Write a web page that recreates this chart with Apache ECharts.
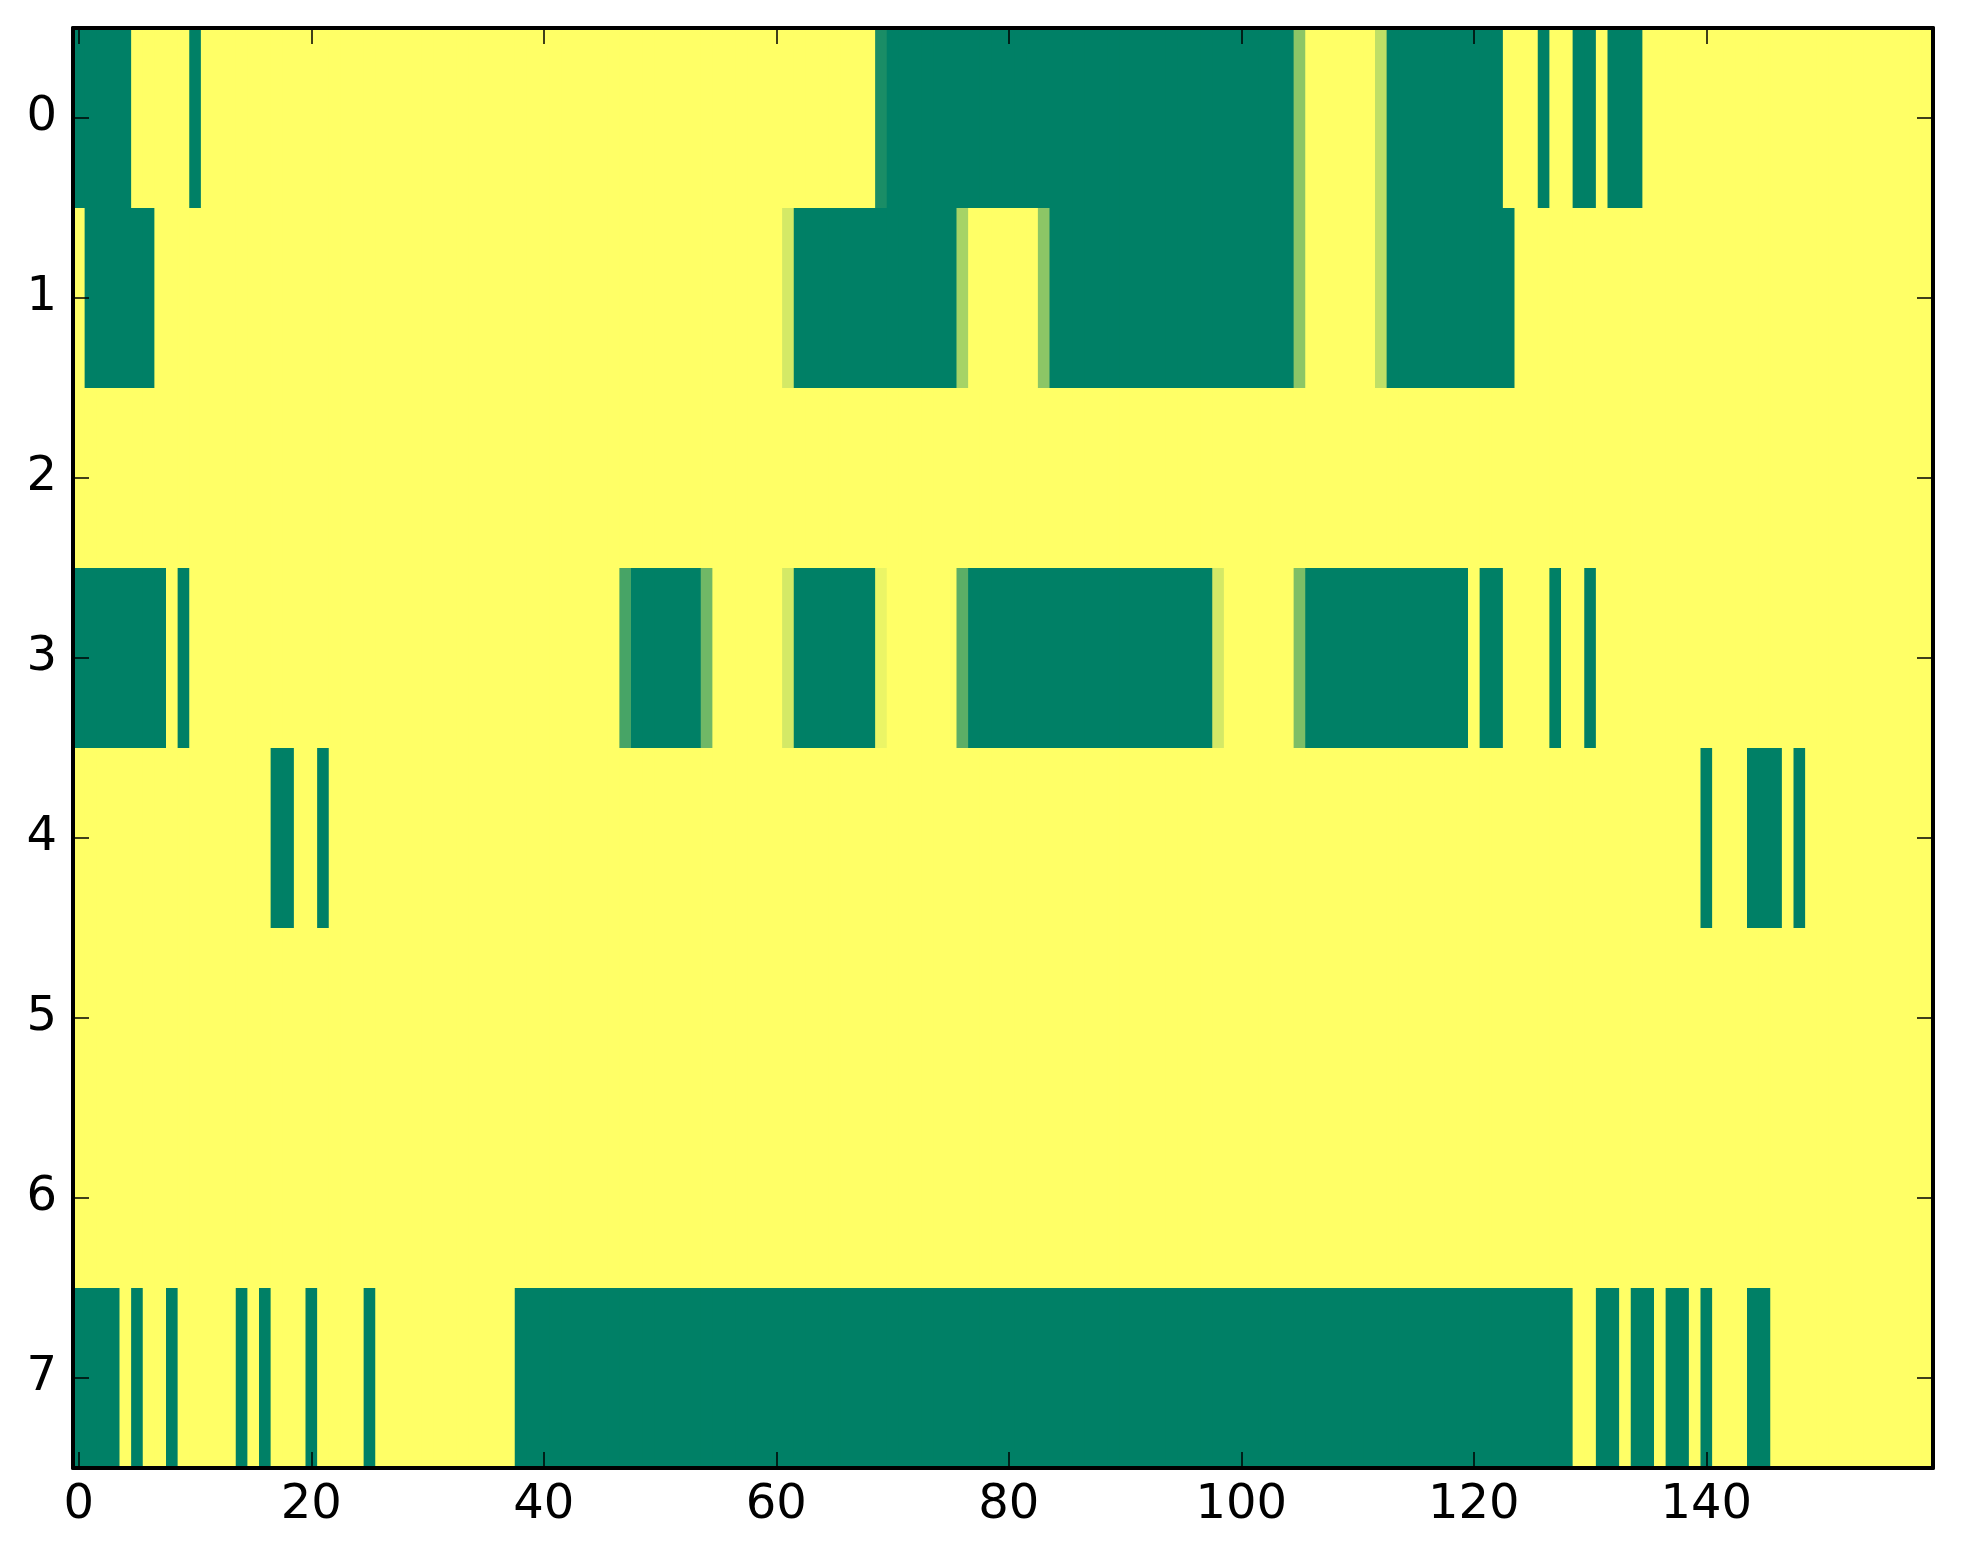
<!DOCTYPE html>
<html>
<head>
<meta charset="utf-8">
<script src="https://cdn.jsdelivr.net/npm/echarts@6/dist/echarts.min.js"></script>
<style>
  html, body { margin: 0; padding: 0; background: #fff; }
  #chart { width: 1963px; height: 1564px; }
</style>
</head>
<body>
<div id="chart"></div>
<script>
// grid: 160 columns x 8 rows, 1 = yellow, 0 = green
const nCols = 160;
const rowLabels = ['0', '1', '2', '3', '4', '5', '6', '7'];
const xTickStep = 20;

// green runs [from, to] per row (inclusive column indices)
const row0Runs = [[0, 4], [10, 10], [70, 104], [113, 122], [126, 126], [129, 130], [132, 134]];
const row1Runs = [[1, 6], [62, 75], [84, 104], [113, 123]];
const row2Runs = [];
const row3Runs = [[0, 7], [9, 9], [48, 53], [62, 68], [77, 97], [106, 119], [121, 122], [127, 127], [130, 130]];
const row4Runs = [[17, 18], [21, 21], [140, 140], [144, 146], [148, 148]];
const row5Runs = [];
const row6Runs = [];
const row7Runs = [[0, 3], [5, 5], [8, 8], [14, 14], [16, 16], [20, 20], [25, 25], [38, 128],
                  [131, 132], [134, 135], [137, 138], [140, 140], [144, 145]];

// blended edge cells [column, value]
const row0Edges = [[69, 0.1], [105, 0.55], [112, 0.75]];
const row1Edges = [[61, 0.83], [76, 0.65], [83, 0.55], [105, 0.55], [112, 0.75]];
const row3Edges = [[47, 0.28], [54, 0.44], [61, 0.83], [69, 0.92], [76, 0.36], [98, 0.83], [105, 0.49]];

const allRuns = [row0Runs, row1Runs, row2Runs, row3Runs, row4Runs, row5Runs, row6Runs, row7Runs];
const allEdges = [row0Edges, row1Edges, [], row3Edges, [], [], [], []];

const xCats = [];
for (let i = 0; i < nCols; i++) xCats.push(String(i));

const cells = [];
allRuns.forEach((runs, r) => {
  const row = new Array(nCols).fill(1);
  runs.forEach(([a, b]) => { for (let c = a; c <= b; c++) row[c] = 0; });
  allEdges[r].forEach(([c, v]) => { row[c] = v; });
  row.forEach((v, c) => cells.push([c, r, v]));
});

const font = { color: '#000', fontFamily: 'DejaVu Sans', fontSize: 48 };
const line = { show: true, onZero: false, lineStyle: { color: '#000', width: 4 } };
const tick = { show: true, inside: true, length: 16, alignWithLabel: true, lineStyle: { color: '#000', width: 1.5 } };
const everyStep = (i) => i % xTickStep === 0;

// one rect per cell, placed by the axes; a little overlap hides seams
const renderCell = (params, api) => {
  const p = api.coord([api.value(0), api.value(1)]);
  const s = api.size([1, 1]);
  return {
    type: 'rect',
    shape: { x: p[0] - s[0] / 2, y: p[1] - s[1] / 2, width: s[0] + 1, height: s[1] + 1 },
    style: { fill: api.visual('color') }
  };
};

const chart = echarts.init(document.getElementById('chart'));
chart.setOption({
  animation: false,
  backgroundColor: '#fff',
  grid: { left: 73, top: 28, width: 1860, height: 1440 },
  xAxis: [
    { type: 'category', data: xCats, position: 'bottom', z: 10,
      axisLine: line, axisTick: Object.assign({}, tick, { interval: everyStep }),
      axisLabel: Object.assign({}, font, { interval: everyStep, margin: 14 }),
      splitLine: { show: false } },
    { type: 'category', data: xCats, position: 'top', z: 10,
      axisLine: line, axisTick: Object.assign({}, tick, { interval: everyStep }),
      axisLabel: { show: false }, splitLine: { show: false } }
  ],
  yAxis: [
    { type: 'category', data: rowLabels, inverse: true, position: 'left', z: 10,
      axisLine: line, axisTick: tick,
      axisLabel: Object.assign({}, font, { margin: 16 }),
      splitLine: { show: false } },
    { type: 'category', data: rowLabels, inverse: true, position: 'right', z: 10,
      axisLine: line, axisTick: tick,
      axisLabel: { show: false }, splitLine: { show: false } }
  ],
  visualMap: {
    show: false, type: 'continuous', min: 0, max: 1, dimension: 2,
    inRange: { color: ['#008066', '#ffff66'] }
  },
  series: [{
    type: 'custom',
    z: 1,
    renderItem: renderCell,
    data: cells,
    encode: { x: 0, y: 1 },
    clip: true,
    silent: true
  }]
});
</script>
</body>
</html>
